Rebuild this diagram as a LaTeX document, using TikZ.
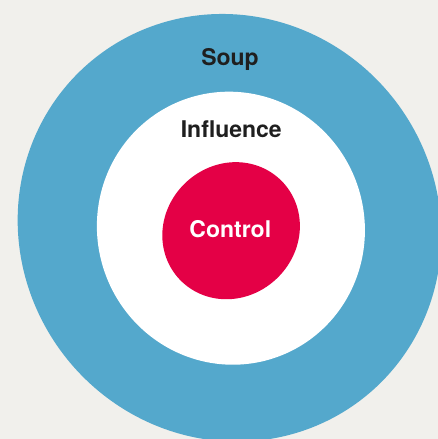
\documentclass[tikz,border=0pt]{standalone}
\usepackage{fontspec}
\setmainfont{TeX Gyre Heros}
\definecolor{bgc}{HTML}{F1F0EC}
\definecolor{soupc}{HTML}{54A8CC}
\definecolor{ctrlc}{HTML}{E40046}
\definecolor{txtc}{HTML}{1F1F1F}
\begin{document}
\begin{tikzpicture}[x=1pt,y=1pt,
  blob/.style={domain=0:360,samples=181,variable=\t,smooth},
  lbl/.style={anchor=base,font=\fontsize{23}{27}\selectfont\bfseries,inner sep=0pt}]
\fill[bgc] (0,0) rectangle (438,439);
\useasboundingbox (0,0) rectangle (438,439);
% soup (blue)
\begin{scope}[shift={(229.5,211.2)}]
\fill[soupc] plot[blob] ({(212.7-1.0*cos(2*\t)-3.75*sin(2*\t))*cos(\t)},{(212.7-1.0*cos(2*\t)-3.75*sin(2*\t))*sin(\t)}) -- cycle;
\end{scope}
% influence (white)
\begin{scope}[shift={(230.9,210.8)}]
\fill[white] plot[blob] ({(135.25-1.25*cos(2*\t)-1.0*sin(2*\t))*cos(\t)},{(135.25-1.25*cos(2*\t)-1.0*sin(2*\t))*sin(\t)}) -- cycle;
\end{scope}
% control (red)
\begin{scope}[shift={(231.1,208.3)}]
\fill[ctrlc] plot[blob] ({(68.5+0.125*cos(2*\t)+2.38*sin(2*\t))*cos(\t)},{(68.5+0.125*cos(2*\t)+2.38*sin(2*\t))*sin(\t)}) -- cycle;
\end{scope}
\node[lbl,text=txtc] (soup) at (230,373.3) {Soup};
\node[lbl,text=txtc] (influence) at (231.3,301.7) {Influence};
\node[lbl,text=white] (control) at (230.3,201.7) {Control};
\end{tikzpicture}
\end{document}
